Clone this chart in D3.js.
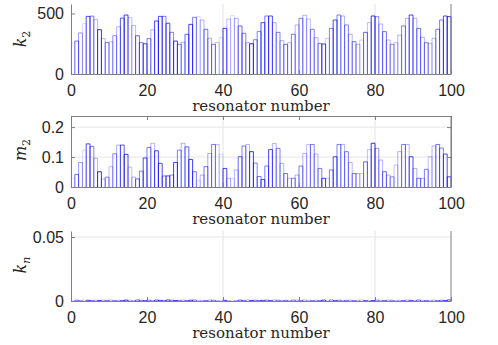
<!DOCTYPE html>
<html>
<head>
<meta charset="utf-8">
<script src="https://cdn.jsdelivr.net/npm/d3@7"></script>
<style>
  body { margin: 0; background: #fff; }
  text { fill: #262626; }
</style>
</head>
<body>
<div class="container"></div>
<script>
const xTicks = [0, 20, 40, 60, 80, 100];

// stiffness k2 per resonator
const k2 = [258, 272, 339, 416, 476, 478, 449, 366, 292, 259,
            266, 316, 390, 462, 487, 465, 400, 316, 259, 250,
            292, 365, 438, 476, 476, 419, 344, 272, 245, 262,
            328, 410, 468, 474, 446, 369, 295, 245, 259, 303,
            377, 454, 482, 460, 397, 336, 259, 250, 283, 350,
            424, 479, 479, 424, 344, 275, 245, 259, 328, 405,
            460, 485, 454, 369, 300, 253, 248, 295, 377, 446,
            487, 479, 405, 328, 267, 245, 281, 344, 424, 479,
            474, 413, 350, 281, 245, 259, 322, 397, 460, 487,
            460, 377, 303, 259, 253, 295, 369, 446, 479, 474];

// mass m2 per resonator
const m2 = [0.030, 0.042, 0.082, 0.123, 0.144, 0.135, 0.096, 0.051, 0.027, 0.033,
            0.068, 0.111, 0.140, 0.140, 0.109, 0.066, 0.033, 0.027, 0.053, 0.097,
            0.132, 0.146, 0.121, 0.079, 0.037, 0.037, 0.040, 0.082, 0.123, 0.146,
            0.134, 0.092, 0.051, 0.023, 0.040, 0.068, 0.112, 0.142, 0.142, 0.109,
            0.062, 0.029, 0.029, 0.057, 0.101, 0.137, 0.142, 0.118, 0.080, 0.035,
            0.025, 0.070, 0.125, 0.145, 0.129, 0.079, 0.045, 0.029, 0.029, 0.040,
            0.070, 0.112, 0.142, 0.142, 0.110, 0.062, 0.029, 0.029, 0.057, 0.101,
            0.142, 0.142, 0.118, 0.082, 0.045, 0.045, 0.045, 0.084, 0.125, 0.146,
            0.129, 0.090, 0.051, 0.040, 0.034, 0.073, 0.118, 0.142, 0.142, 0.101,
            0.062, 0.029, 0.029, 0.059, 0.101, 0.137, 0.142, 0.130, 0.110, 0.034];

// coupling kn per resonator (all close to zero)
const kn = [0.0004, 0.0006, 0.0003, 0.0008, 0.0005, 0.0004, 0.0007, 0.0003, 0.0006, 0.0005,
            0.0008, 0.0004, 0.0005, 0.0003, 0.0007, 0.0006, 0.0004, 0.0008, 0.0005, 0.0003,
            0.0006, 0.0004, 0.0007, 0.0005, 0.0003, 0.0008, 0.0006, 0.0004, 0.0005, 0.0007,
            0.0003, 0.0006, 0.0008, 0.0004, 0.0005, 0.0003, 0.0007, 0.0006, 0.0004, 0.0008,
            0.0005, 0.0003, 0.0006, 0.0004, 0.0007, 0.0005, 0.0008, 0.0003, 0.0006, 0.0004,
            0.0005, 0.0007, 0.0003, 0.0008, 0.0006, 0.0004, 0.0005, 0.0003, 0.0007, 0.0006,
            0.0004, 0.0008, 0.0005, 0.0003, 0.0006, 0.0004, 0.0007, 0.0005, 0.0008, 0.0003,
            0.0006, 0.0004, 0.0005, 0.0007, 0.0003, 0.0006, 0.0008, 0.0004, 0.0005, 0.0003,
            0.0007, 0.0006, 0.0004, 0.0008, 0.0005, 0.0003, 0.0006, 0.0004, 0.0007, 0.0005,
            0.0003, 0.0008, 0.0006, 0.0004, 0.0005, 0.0007, 0.0003, 0.0006, 0.0004, 0.0008];

// shade of each resonator's outline
const barAlpha = [0.10, 0.55, 0.40, 0.15, 0.70, 0.50, 0.30, 0.80, 0.30, 0.50,
                  0.25, 0.45, 0.30, 0.65, 0.75, 0.25, 0.30, 0.60, 0.50, 0.70,
                  0.50, 0.30, 0.70, 0.70, 0.50, 0.70, 0.50, 0.75, 0.50, 0.30,
                  0.60, 0.75, 0.50, 0.15, 0.30, 0.55, 0.35, 0.50, 0.25, 0.15,
                  0.75, 0.25, 0.15, 0.30, 0.60, 0.50, 0.30, 0.80, 0.50, 0.50,
                  0.70, 0.50, 0.70, 0.30, 0.50, 0.30, 0.55, 0.25, 0.50, 0.30,
                  0.50, 0.30, 0.25, 0.50, 0.30, 0.50, 0.75, 0.20, 0.50, 0.70,
                  0.50, 0.30, 0.50, 0.30, 0.50, 0.30, 0.20, 0.60, 0.25, 0.80,
                  0.45, 0.30, 0.55, 0.30, 0.45, 0.25, 0.30, 0.50, 0.30, 0.70,
                  0.30, 0.55, 0.30, 0.50, 0.25, 0.30, 0.55, 0.50, 0.70, 0.75];

const w = 498, h = 345;
const left = 71, right = 451;
const axisColor = "#7f7f7f";

const svg = d3.select(".container").append("svg")
  .attr("width", w).attr("height", h)
  .style("display", "block");

const x = d3.scaleLinear().domain([0, 100]).range([left, right]);

function drawPanel(p) {
  const y = d3.scaleLinear().domain([0, p.ymax]).range([p.bottom, p.top]);
  const g = svg.append("g");

  // grid lines
  [40, 80].forEach(v => {
    g.append("line").attr("x1", x(v)).attr("x2", x(v))
      .attr("y1", p.top).attr("y2", p.bottom)
      .attr("stroke", "#e3e3e3").attr("stroke-width", 1);
  });
  p.yGrid.forEach(v => {
    g.append("line").attr("x1", left).attr("x2", right)
      .attr("y1", y(v)).attr("y2", y(v))
      .attr("stroke", "#e6e6e6").attr("stroke-width", 1);
  });

  // one open outline per resonator
  g.selectAll("path.bar")
    .data(p.values)
    .enter()
    .append("path")
    .attr("class", "bar")
    .attr("d", (d, i) => `M${x(i)},${y(0)}V${y(d)}H${x(i + 1)}V${y(0)}`)
    .attr("fill", "none")
    .attr("stroke", "#0000ff")
    .attr("stroke-opacity", (d, i) => barAlpha[i])
    .attr("stroke-width", 1);

  // right edge
  g.append("line").attr("x1", right).attr("x2", right)
    .attr("y1", p.top).attr("y2", p.bottom)
    .attr("stroke", axisColor);

  if (p.box) {
    g.append("g")
      .attr("transform", "translate(0," + p.top + ")")
      .call(d3.axisTop(x).tickValues(xTicks).tickSize(-4).tickSizeOuter(0).tickFormat(""))
      .call(a => a.selectAll("path,line").attr("stroke", axisColor));
    g.append("g")
      .attr("transform", "translate(" + right + ",0)")
      .call(d3.axisRight(y).tickValues(p.yTicks).tickSize(-4).tickSizeOuter(0).tickFormat(""))
      .call(a => a.selectAll("path,line").attr("stroke", axisColor));
  }

  const xAxis = d3.axisBottom(x).tickValues(xTicks).tickSize(-4).tickSizeOuter(0).tickPadding(11);
  g.append("g")
    .attr("transform", "translate(0," + p.bottom + ")")
    .call(xAxis)
    .call(a => a.selectAll("path,line").attr("stroke", axisColor))
    .call(a => a.selectAll("text").attr("font-family", "Liberation Sans, Arial, sans-serif")
      .attr("font-size", 16).attr("fill", "#262626"));

  const yAxis = d3.axisLeft(y).tickValues(p.yTicks).tickFormat(p.fmt)
    .tickSize(-4).tickSizeOuter(0).tickPadding(7);
  g.append("g")
    .attr("transform", "translate(" + left + ",0)")
    .call(yAxis)
    .call(a => a.selectAll("path,line").attr("stroke", axisColor))
    .call(a => a.selectAll("text").attr("font-family", "Liberation Sans, Arial, sans-serif")
      .attr("font-size", 16).attr("fill", "#262626"));

  // x label
  g.append("text")
    .attr("x", (left + right) / 2)
    .attr("y", p.bottom + 37)
    .attr("text-anchor", "middle")
    .attr("font-family", "DejaVu Serif, serif")
    .attr("font-size", 15)
    .text("resonator number");

  // y label
  const yl = g.append("text")
    .attr("transform", "translate(26," + p.labelY + ") rotate(-90)")
    .attr("text-anchor", "middle")
    .attr("font-family", "DejaVu Serif, serif")
    .attr("font-size", 16);
  yl.append("tspan").attr("font-style", "italic").text(p.sym);
  yl.append("tspan").attr("font-size", 11).attr("dy", 4)
    .attr("font-style", p.subItalic ? "italic" : "normal").text(p.sub);
}

drawPanel({values: k2, top: 4, bottom: 74, ymax: 578, yTicks: [0, 500], yGrid: [],
  fmt: d3.format("d"), box: false, sym: "k", sub: "2", subItalic: false, labelY: 39});
drawPanel({values: m2, top: 116, bottom: 187, ymax: 0.237, yTicks: [0, 0.1, 0.2], yGrid: [0.1, 0.2],
  fmt: d => d === 0 ? "0" : d3.format(".1f")(d), box: true, sym: "m", sub: "2", subItalic: false, labelY: 150});
drawPanel({values: kn, top: 231, bottom: 301, ymax: 0.0547, yTicks: [0, 0.05], yGrid: [0.05],
  fmt: d => d === 0 ? "0" : d3.format(".2f")(d), box: false, sym: "k", sub: "n", subItalic: true, labelY: 265});
</script>
</body>
</html>
